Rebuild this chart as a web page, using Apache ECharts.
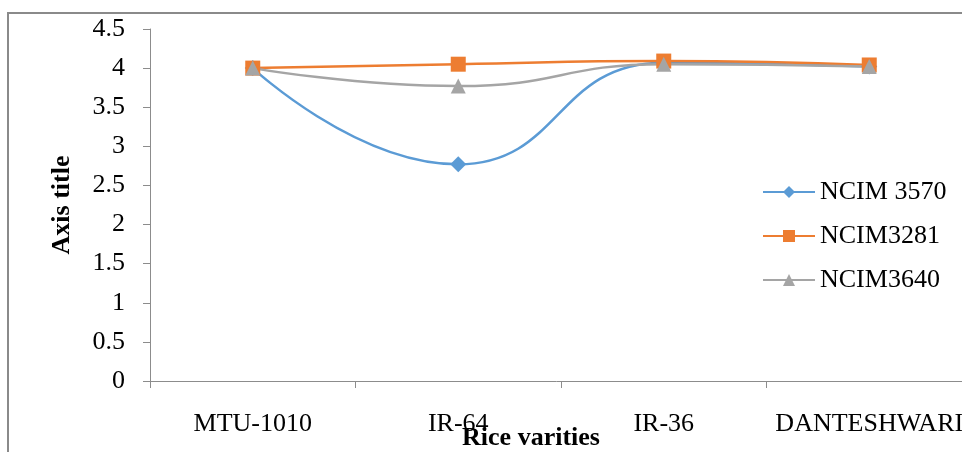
<!DOCTYPE html>
<html>
<head>
<meta charset="utf-8">
<script src="https://cdn.jsdelivr.net/npm/echarts@6/dist/echarts.min.js"></script>
<style>
  html, body { margin: 0; padding: 0; background: #fff; }
  #chart { width: 962px; height: 452px; }
</style>
</head>
<body>
<div id="chart"></div>
<script>
// Rice varieties on the category axis
const categories = ['MTU-1010', 'IR-64', 'IR-36', 'DANTESHWARI'];
const yTicks = [0, 0.5, 1, 1.5, 2, 2.5, 3, 3.5, 4, 4.5];

// Readings for each culture
const ncim3570 = [4.0, 2.77, 4.07, 4.02];
const ncim3281 = [4.0, 4.05, 4.09, 4.04];
const ncim3640 = [4.0, 3.77, 4.05, 4.02];

const serif = "'Liberation Serif', 'Times New Roman', serif";
const axisGray = '#8c8c8c';

const chart = echarts.init(document.getElementById('chart'));

function lineSeries(name, data, color, symbol, size) {
  return {
    name: name,
    type: 'line',
    data: data,
    smooth: 0.5,
    symbol: symbol,
    symbolSize: size,
    itemStyle: { color: color },
    lineStyle: { color: color, width: 2.5 },
    emphasis: { disabled: true }
  };
}

chart.setOption({
  animation: false,
  textStyle: { fontFamily: serif },
  graphic: [{
    type: 'rect',
    shape: { x: 8, y: 13, width: 980, height: 470 },
    style: { fill: 'none', stroke: '#8a8a8a', lineWidth: 2 },
    silent: true
  }],
  // the plot runs past the right edge of the canvas, so keep the grid as laid out
  grid: { left: 150, top: 29, width: 822, height: 352, containLabel: false, outerBoundsMode: 'none' },
  legend: {
    orient: 'vertical',
    left: 757,
    top: 174,
    itemWidth: 52,
    itemHeight: 15,
    itemGap: 18,
    textStyle: { fontFamily: serif, fontSize: 26, color: '#000' },
    data: ['NCIM 3570', 'NCIM3281', 'NCIM3640']
  },
  xAxis: {
    type: 'category',
    data: categories,
    boundaryGap: true,
    name: 'Rice varities',
    nameLocation: 'middle',
    nameGap: 44,
    nameMoveOverlap: false,
    nameTextStyle: { fontFamily: serif, fontSize: 26, fontWeight: 'bold', color: '#000', padding: [0, 60, 0, 0] },
    axisLine: { lineStyle: { color: axisGray, width: 1 } },
    axisTick: { show: true, interval: 0, length: 7, lineStyle: { color: axisGray } },
    axisLabel: { interval: 0, fontFamily: serif, fontSize: 26, color: '#000', margin: 30, hideOverlap: false },
    splitLine: { show: false }
  },
  yAxis: {
    type: 'value',
    min: yTicks[0],
    max: yTicks[yTicks.length - 1],
    interval: 0.5,
    name: 'Axis title',
    nameLocation: 'middle',
    nameGap: 75,
    nameMoveOverlap: false,
    nameTextStyle: { fontFamily: serif, fontSize: 26, fontWeight: 'bold', color: '#000' },
    axisLine: { show: true, lineStyle: { color: axisGray, width: 1 } },
    axisTick: { show: true, length: 7, lineStyle: { color: axisGray } },
    axisLabel: { fontFamily: serif, fontSize: 26, color: '#000', margin: 25 },
    splitLine: { show: false }
  },
  series: [
    lineSeries('NCIM 3570', ncim3570, '#5B9BD5', 'diamond', 16),
    lineSeries('NCIM3281', ncim3281, '#ED7D31', 'rect', 15),
    lineSeries('NCIM3640', ncim3640, '#A5A5A5', 'triangle', 15)
  ]
});
</script>
</body>
</html>
